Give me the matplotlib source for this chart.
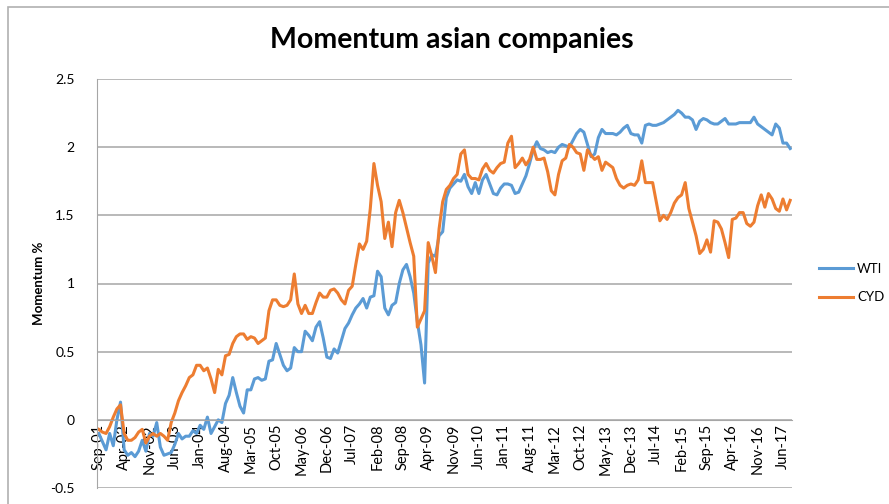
import matplotlib
matplotlib.use("Agg")
import matplotlib.pyplot as plt
from matplotlib.patches import Rectangle
import numpy as np

plt.rcParams['font.family'] = ['Lato', 'DejaVu Sans']

# monthly momentum, Sep-01 .. Aug-17
wti = [
    -0.10, -0.16, -0.22, -0.10, -0.19, 0.00, 0.13, -0.22, -0.26, -0.24,
    -0.27, -0.23, -0.15, -0.23, -0.10, -0.12, -0.02, -0.20, -0.26, -0.25,
    -0.24, -0.18, -0.10, -0.14, -0.12, -0.12, -0.08, -0.10, -0.04, -0.07,
    0.02, -0.10, -0.05, 0.00, -0.02, 0.12, 0.18, 0.31, 0.20, 0.10,
    0.05, 0.22, 0.22, 0.30, 0.31, 0.29, 0.30, 0.43, 0.44, 0.56,
    0.48, 0.40, 0.36, 0.38, 0.53, 0.50, 0.50, 0.65, 0.62, 0.58,
    0.68, 0.72, 0.60, 0.46, 0.45, 0.52, 0.49, 0.58, 0.67, 0.71,
    0.77, 0.82, 0.85, 0.89, 0.82, 0.90, 0.91, 1.09, 1.05, 0.82,
    0.77, 0.84, 0.86, 1.00, 1.10, 1.14, 1.05, 0.93, 0.72, 0.55,
    0.27, 1.15, 1.21, 1.20, 1.35, 1.38, 1.63, 1.70, 1.73, 1.76,
    1.75, 1.80, 1.71, 1.66, 1.74, 1.66, 1.76, 1.80, 1.73, 1.66,
    1.65, 1.70, 1.73, 1.73, 1.72, 1.66, 1.67, 1.73, 1.79, 1.88,
    1.98, 2.04, 1.99, 1.98, 1.96, 1.97, 1.96, 2.00, 2.02, 2.01,
    2.00, 2.05, 2.10, 2.13, 2.11, 2.02, 1.93, 1.95, 2.07, 2.13,
    2.10, 2.10, 2.10, 2.09, 2.11, 2.14, 2.16, 2.10, 2.09, 2.09,
    2.03, 2.16, 2.17, 2.16, 2.16, 2.17, 2.18, 2.20, 2.22, 2.24,
    2.27, 2.25, 2.22, 2.22, 2.20, 2.13, 2.19, 2.21, 2.20, 2.18,
    2.17, 2.17, 2.19, 2.21, 2.17, 2.17, 2.17, 2.18, 2.18, 2.18,
    2.18, 2.22, 2.17, 2.15, 2.13, 2.11, 2.09, 2.17, 2.14, 2.03,
    2.03, 1.99,
]

cyd = [
    -0.07, -0.09, -0.10, -0.05, 0.02, 0.08, 0.11, -0.10, -0.15, -0.15,
    -0.13, -0.09, -0.07, -0.17, -0.12, -0.10, -0.12, -0.10, -0.12, -0.15,
    -0.02, 0.05, 0.14, 0.20, 0.25, 0.31, 0.33, 0.40, 0.40, 0.36,
    0.38, 0.30, 0.20, 0.37, 0.33, 0.47, 0.48, 0.56, 0.61, 0.63,
    0.63, 0.59, 0.61, 0.60, 0.56, 0.58, 0.60, 0.80, 0.88, 0.88,
    0.84, 0.83, 0.84, 0.88, 1.07, 0.85, 0.78, 0.84, 0.78, 0.78,
    0.86, 0.93, 0.90, 0.90, 0.95, 0.96, 0.93, 0.88, 0.85, 0.95,
    0.98, 1.14, 1.29, 1.25, 1.31, 1.55, 1.88, 1.72, 1.60, 1.33,
    1.45, 1.27, 1.52, 1.61, 1.52, 1.41, 1.30, 1.20, 0.68, 0.74,
    0.80, 1.30, 1.20, 1.08, 1.40, 1.60, 1.69, 1.72, 1.77, 1.80,
    1.95, 1.98, 1.80, 1.77, 1.77, 1.76, 1.84, 1.88, 1.83, 1.81,
    1.85, 1.88, 1.89, 2.03, 2.08, 1.85, 1.88, 1.92, 1.87, 1.91,
    2.00, 1.91, 1.91, 1.92, 1.82, 1.68, 1.65, 1.80, 1.90, 1.92,
    2.02, 2.00, 1.96, 1.95, 1.83, 1.98, 1.94, 1.91, 1.93, 1.83,
    1.89, 1.87, 1.85, 1.77, 1.72, 1.70, 1.72, 1.73, 1.72, 1.76,
    1.90, 1.74, 1.74, 1.74, 1.60, 1.46, 1.50, 1.47, 1.52, 1.59,
    1.63, 1.65, 1.74, 1.55, 1.45, 1.35, 1.22, 1.25, 1.32, 1.23,
    1.46, 1.45, 1.40, 1.30, 1.19, 1.47, 1.48, 1.52, 1.52, 1.44,
    1.42, 1.45, 1.57, 1.65, 1.56, 1.66, 1.62, 1.55, 1.53, 1.62,
    1.54, 1.61,
]

tick_labels = ['Sep-01', 'Apr-02', 'Nov-02', 'Jun-03', 'Jan-04', 'Aug-04',
               'Mar-05', 'Oct-05', 'May-06', 'Dec-06', 'Jul-07', 'Feb-08',
               'Sep-08', 'Apr-09', 'Nov-09', 'Jun-10', 'Jan-11', 'Aug-11',
               'Mar-12', 'Oct-12', 'May-13', 'Dec-13', 'Jul-14', 'Feb-15',
               'Sep-15', 'Apr-16', 'Nov-16', 'Jun-17']

x = np.arange(len(wti))
grid_col = '#a6a6a6'

fig = plt.figure(figsize=(8.89, 5.04), dpi=100)
ax = fig.add_axes([97 / 889, 16 / 504, 695 / 889, 409 / 504])

# chart frame (right and bottom edges fall outside the image)
frame = Rectangle((7.5 / 889, -0.1), 1.2, (504 - 7.5) / 504 + 0.1,
                  transform=fig.transFigure, fill=False,
                  edgecolor='#b0b0b0', lw=1.2, zorder=0)
fig.add_artist(frame)

ax.plot(x, wti, color='#5b9bd5', lw=2.2, label='WTI', solid_joinstyle='round')
ax.plot(x, cyd, color='#ed7d31', lw=2.2, label='CYD', solid_joinstyle='round')

ax.set_xlim(-0.5, len(wti) - 0.5)
ax.set_ylim(-0.5, 2.5)
ax.set_yticks(np.arange(-0.5, 2.51, 0.5))
ax.set_yticklabels(['-0.5', '0', '0.5', '1', '1.5', '2', '2.5'])
ax.yaxis.grid(True, color=grid_col, lw=1.1)
ax.set_axisbelow(True)

ax.set_xticks(np.arange(0, len(wti), 7)[:len(tick_labels)])
ax.set_xticklabels(tick_labels)

ax.spines['bottom'].set_position(('data', 0))
ax.spines['bottom'].set_color(grid_col)
ax.spines['left'].set_color(grid_col)
ax.spines['top'].set_visible(False)
ax.spines['right'].set_visible(False)
ax.tick_params(axis='both', length=0, labelsize=10, colors='black')
ax.tick_params(axis='x', pad=3, labelrotation=90, labelsize=10.5)
ax.tick_params(axis='y', pad=16)

ax.set_ylabel('Momentum %', fontsize=9.5, fontweight='bold', labelpad=4)

fig.text(452 / 889, 1 - 40 / 504, 'Momentum asian companies', ha='center',
         va='center', fontsize=20.5, fontweight='bold')

fig.legend(loc='center left', bbox_to_anchor=(807 / 889, 1 - 283 / 504),
           frameon=False, fontsize=9.5, handlelength=2.6, labelspacing=1.25,
           handletextpad=0.3)

fig.savefig('out.png', dpi=100)
